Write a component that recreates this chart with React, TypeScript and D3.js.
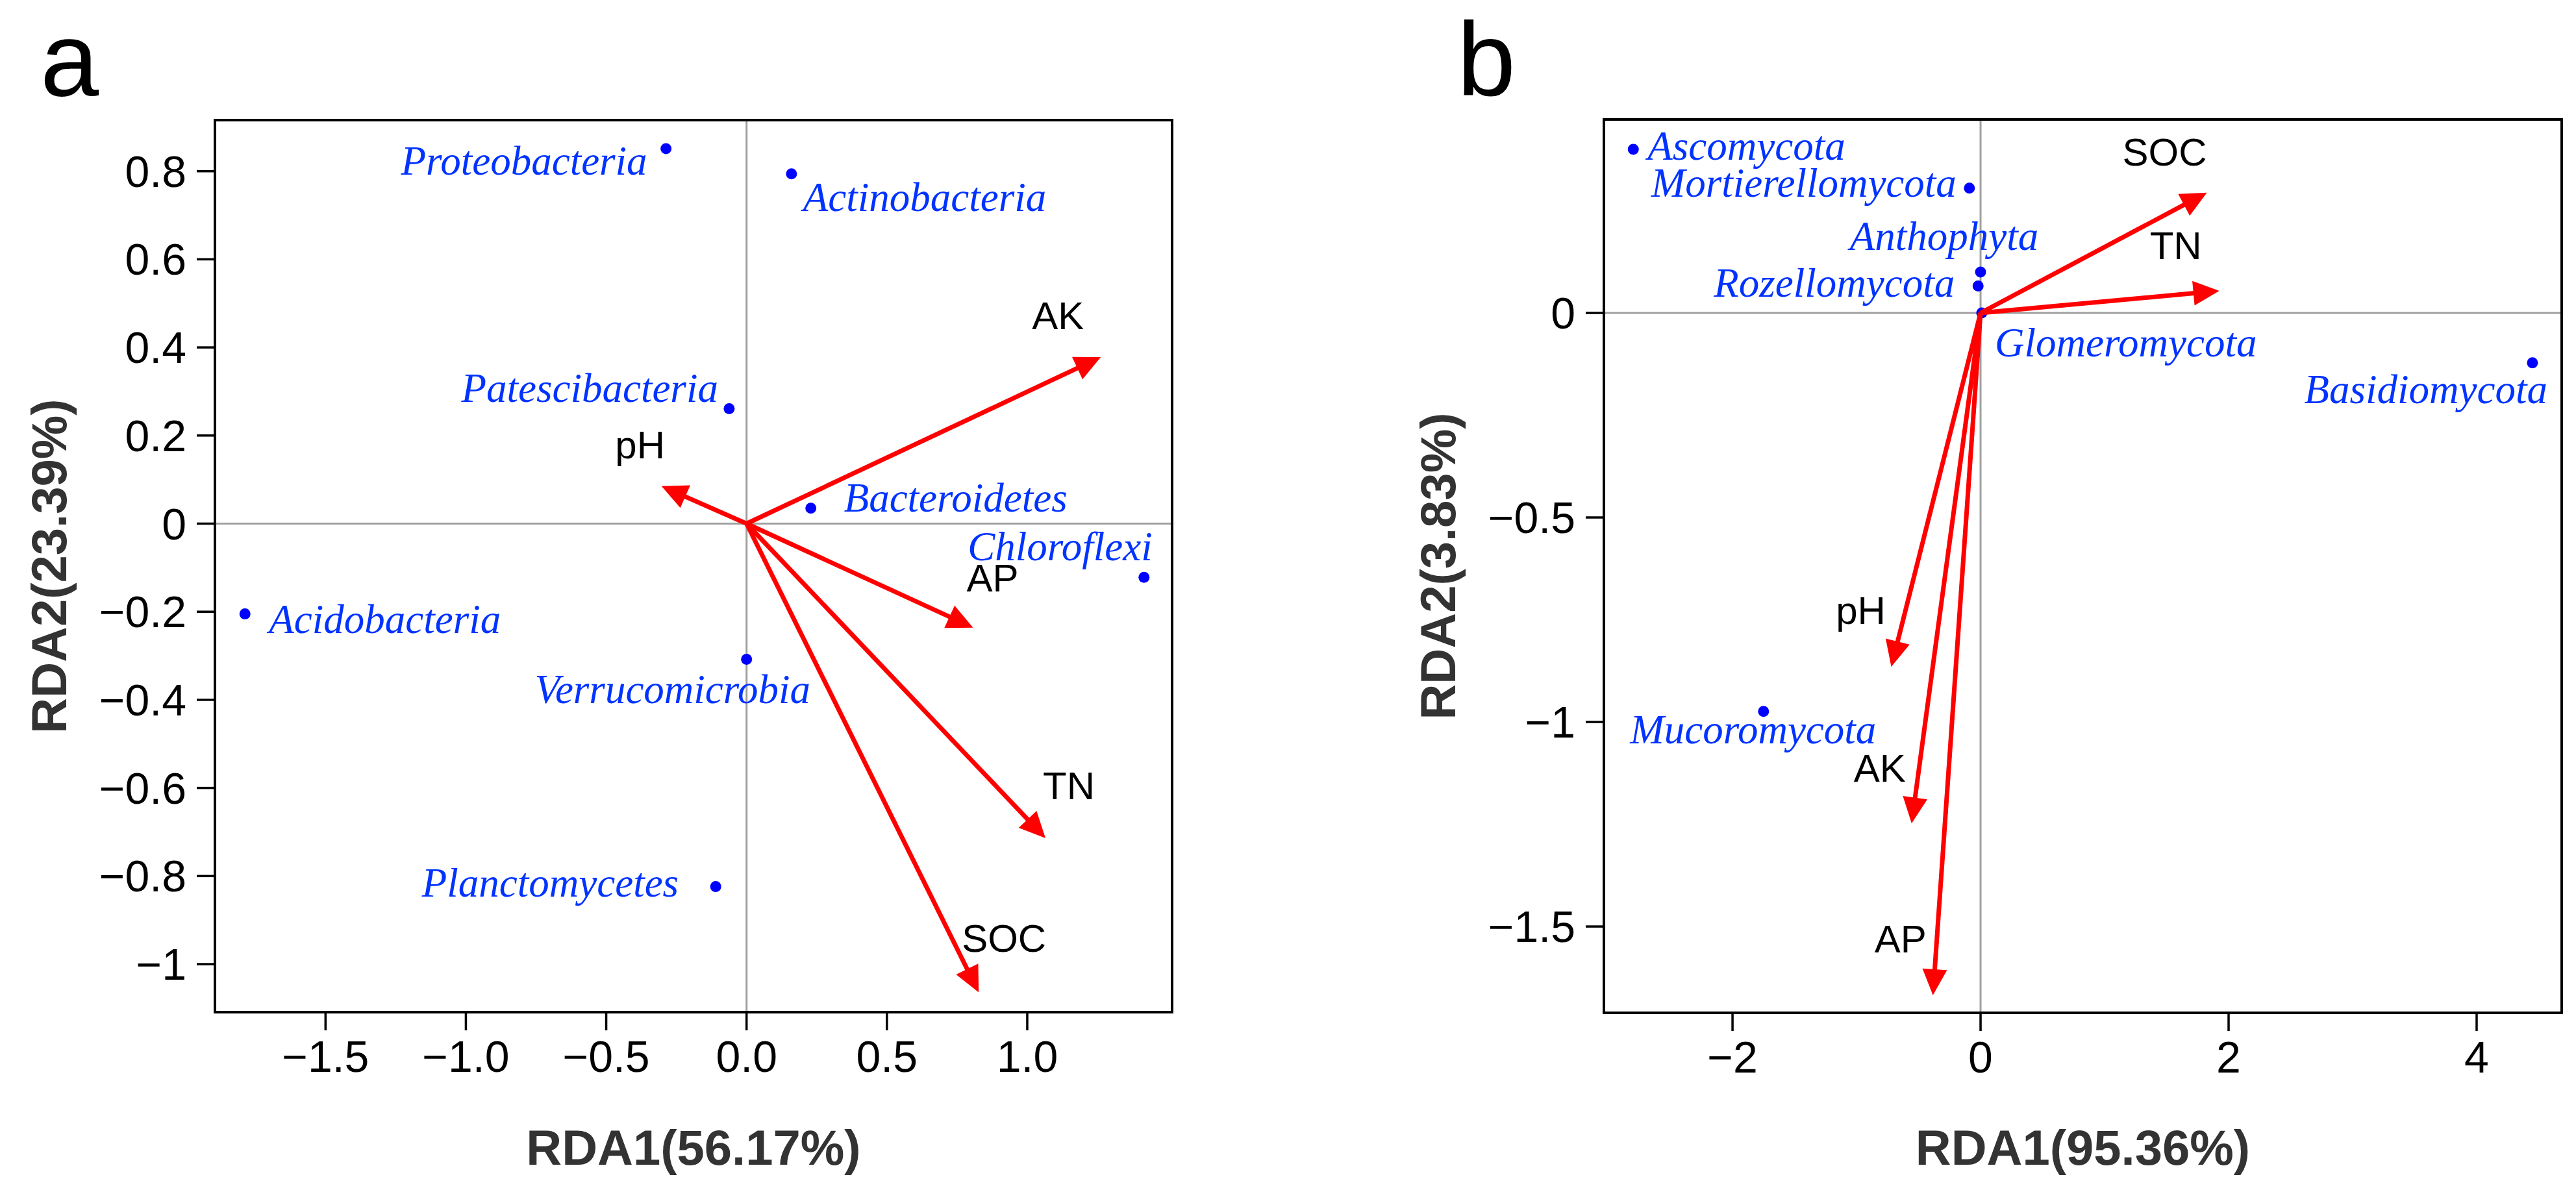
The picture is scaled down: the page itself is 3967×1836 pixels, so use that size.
import React, { useEffect } from 'react';
import * as d3 from 'd3';

// ---------------- Data: panel a (bacteria) ----------------
const bacteriaNames = ['Proteobacteria', 'Actinobacteria', 'Patescibacteria', 'Bacteroidetes', 'Chloroflexi', 'Acidobacteria', 'Verrucomicrobia', 'Planctomycetes'];
const bacteriaRDA1 = [-0.287, 0.16, -0.062, 0.229, 1.416, -1.787, 0.0, -0.11];
const bacteriaRDA2 = [0.851, 0.794, 0.261, 0.035, -0.122, -0.205, -0.308, -0.824];

const bacteriaEnvNames = ['AK', 'pH', 'AP', 'TN', 'SOC'];
const bacteriaEnvRDA1 = [1.262, -0.303, 0.807, 1.065, 0.827];
const bacteriaEnvRDA2 = [0.378, 0.085, -0.236, -0.714, -1.064];

const bacteriaXTicks = [-1.5, -1.0, -0.5, 0.0, 0.5, 1.0];
const bacteriaXTickLabels = ['\u22121.5', '\u22121.0', '\u22120.5', '0.0', '0.5', '1.0'];
const bacteriaYTicks = [0.8, 0.6, 0.4, 0.2, 0, -0.2, -0.4, -0.6, -0.8, -1];
const bacteriaYTickLabels = ['0.8', '0.6', '0.4', '0.2', '0', '\u22120.2', '\u22120.4', '\u22120.6', '\u22120.8', '\u22121'];

// ---------------- Data: panel b (fungi) ----------------
const fungiNames = ['Ascomycota', 'Mortierellomycota', 'Anthophyta', 'Rozellomycota', 'Glomeromycota', 'Basidiomycota', 'Mucoromycota'];
const fungiRDA1 = [-2.8, -0.09, 0.0, -0.02, 0.01, 4.45, -1.75];
const fungiRDA2 = [0.4, 0.305, 0.1, 0.066, 0.0, -0.122, -0.974];

const fungiEnvNames = ['SOC', 'TN', 'pH', 'AK', 'AP'];
const fungiEnvRDA1 = [1.825, 1.925, -0.72, -0.556, -0.384];
const fungiEnvRDA2 = [0.294, 0.054, -0.865, -1.248, -1.668];

const fungiXTicks = [-2, 0, 2, 4];
const fungiXTickLabels = ['\u22122', '0', '2', '4'];
const fungiYTicks = [0, -0.5, -1, -1.5];
const fungiYTickLabels = ['0', '\u22120.5', '\u22121', '\u22121.5'];

// ---------------- Label layout (pixel offsets from mark) ----------------
type LabelPos = [number, number, 'start' | 'middle' | 'end'];
const bacteriaLabelLayout: Record<string, LabelPos> = {
  Proteobacteria: [-29, 40, 'end'],
  Actinobacteria: [18, 57, 'start'],
  Patescibacteria: [-17, -10, 'end'],
  Bacteroidetes: [51, 5, 'start'],
  Chloroflexi: [13, -26, 'end'],
  Acidobacteria: [37, 29, 'start'],
  Verrucomicrobia: [-114, 67, 'middle'],
  Planctomycetes: [-57, 15, 'end'],
};
const bacteriaEnvLayout: Record<string, LabelPos> = {
  AK: [-66, -43, 'middle'],
  pH: [-33, -43, 'middle'],
  AP: [30, -56, 'middle'],
  TN: [36, -60, 'middle'],
  SOC: [39, -62, 'middle'],
};
const fungiLabelLayout: Record<string, LabelPos> = {
  Ascomycota: [22, 16, 'start'],
  Mortierellomycota: [-20, 13, 'end'],
  Anthophyta: [-56, -34, 'middle'],
  Rozellomycota: [-36, 17, 'end'],
  Glomeromycota: [20, 67, 'start'],
  Basidiomycota: [23, 62, 'end'],
  Mucoromycota: [-16, 49, 'middle'],
};
const fungiEnvLayout: Record<string, LabelPos> = {
  SOC: [-65, -42, 'middle'],
  TN: [-67, -49, 'middle'],
  pH: [-47, -66, 'middle'],
  AK: [-49, -64, 'middle'],
  AP: [-50, -66, 'middle'],
};

interface PanelProps {
  letter: string;
  letterX: number;
  box: { left: number; right: number; top: number; bottom: number };
  xDomain: [number, number];
  yDomain: [number, number];
  names: string[];
  xs: number[];
  ys: number[];
  envNames: string[];
  envXs: number[];
  envYs: number[];
  xTicks: number[];
  xTickLabels: string[];
  yTicks: number[];
  yTickLabels: string[];
  xTitle: string;
  yTitle: string;
  labelLayout: Record<string, LabelPos>;
  envLayout: Record<string, LabelPos>;
}

const SANS = '"Liberation Sans", Arial, Helvetica, sans-serif';
const SERIF = '"Liberation Serif", "Times New Roman", serif';

function Panel(p: PanelProps) {
  const { box } = p;
  const x = d3.scaleLinear().domain(p.xDomain).range([box.left, box.right]);
  const y = d3.scaleLinear().domain(p.yDomain).range([box.bottom, box.top]);
  const tickLen = 28;
  const headLen = 40;
  const headHalf = 19;
  const cx = (box.left + box.right) / 2;
  const cy = (box.top + box.bottom) / 2;

  return (
    <g>
      <text x={p.letterX} y={147} fontFamily={SANS} fontSize={162} fill="#000">{p.letter}</text>

      {/* zero lines */}
      <line x1={x(0)} x2={x(0)} y1={box.top} y2={box.bottom} stroke="#a0a0a0" strokeWidth={3} />
      <line x1={box.left} x2={box.right} y1={y(0)} y2={y(0)} stroke="#a0a0a0" strokeWidth={3} />

      {/* points */}
      {p.names.map((n, i) => (
        <circle key={'pt' + n} cx={x(p.xs[i])} cy={y(p.ys[i])} r={8.5} fill="#0000ff" />
      ))}

      {/* arrows */}
      {p.envNames.map((n, i) => {
        const x0 = x(0), y0 = y(0);
        const x1 = x(p.envXs[i]), y1 = y(p.envYs[i]);
        const dx = x1 - x0, dy = y1 - y0;
        const L = Math.hypot(dx, dy);
        const ux = dx / L, uy = dy / L;
        const bx = x1 - ux * headLen, by = y1 - uy * headLen;
        const px = -uy, py = ux;
        const pts = [
          [x1, y1],
          [bx + px * headHalf, by + py * headHalf],
          [bx - px * headHalf, by - py * headHalf],
        ].map((q) => q.join(',')).join(' ');
        return (
          <g key={'ar' + n}>
            <line x1={x0} y1={y0} x2={bx + ux * 4} y2={by + uy * 4} stroke="#ff0000" strokeWidth={7} />
            <polygon points={pts} fill="#ff0000" />
          </g>
        );
      })}

      {/* species labels */}
      {p.names.map((n, i) => {
        const [ddx, ddy, anchor] = p.labelLayout[n];
        return (
          <text key={'lb' + n} x={x(p.xs[i]) + ddx} y={y(p.ys[i]) + ddy} textAnchor={anchor}
            fontFamily={SERIF} fontStyle="italic" fontSize={63} fill="#0033ff">{n}</text>
        );
      })}

      {/* env labels */}
      {p.envNames.map((n, i) => {
        const [ddx, ddy, anchor] = p.envLayout[n];
        return (
          <text key={'el' + n} x={x(p.envXs[i]) + ddx} y={y(p.envYs[i]) + ddy} textAnchor={anchor}
            fontFamily={SANS} fontSize={60} fill="#000">{n}</text>
        );
      })}

      {/* box */}
      <rect x={box.left} y={box.top} width={box.right - box.left} height={box.bottom - box.top}
        fill="none" stroke="#000" strokeWidth={4} />

      {/* x ticks */}
      {p.xTicks.map((t, i) => (
        <g key={'xt' + i}>
          <line x1={x(t)} x2={x(t)} y1={box.bottom} y2={box.bottom + tickLen} stroke="#000" strokeWidth={3.5} />
          <text x={x(t)} y={box.bottom + 92} textAnchor="middle" fontFamily={SANS} fontSize={68} fill="#000">
            {p.xTickLabels[i]}
          </text>
        </g>
      ))}

      {/* y ticks */}
      {p.yTicks.map((t, i) => (
        <g key={'yt' + i}>
          <line x1={box.left - tickLen} x2={box.left} y1={y(t)} y2={y(t)} stroke="#000" strokeWidth={3.5} />
          <text x={box.left - 44} y={y(t) + 24} textAnchor="end" fontFamily={SANS} fontSize={68} fill="#000">
            {p.yTickLabels[i]}
          </text>
        </g>
      ))}

      {/* axis titles */}
      <text x={cx} y={1794} textAnchor="middle" fontFamily={SANS} fontWeight="bold" fontSize={76} fill="#333333">
        {p.xTitle}
      </text>
      <text transform={`translate(${box.left - 229},${cy}) rotate(-90)`} textAnchor="middle"
        fontFamily={SANS} fontWeight="bold" fontSize={76} fill="#333333">
        {p.yTitle}
      </text>
    </g>
  );
}

export default function App() {
  useEffect(() => {
    document.body.style.margin = '0';
    document.body.style.overflow = 'hidden';
  }, []);
  return (
    <svg width={3967} height={1836} viewBox="0 0 3967 1836"
      style={{ position: 'absolute', left: 0, top: 0, background: '#fff' }}>
      <rect x={0} y={0} width={3967} height={1836} fill="#fff" />
      <Panel
        letter="a" letterX={62}
        box={{ left: 331, right: 1805, top: 185, bottom: 1559 }}
        xDomain={[-1.894, 1.516]} yDomain={[-1.109, 0.916]}
        names={bacteriaNames} xs={bacteriaRDA1} ys={bacteriaRDA2}
        envNames={bacteriaEnvNames} envXs={bacteriaEnvRDA1} envYs={bacteriaEnvRDA2}
        xTicks={bacteriaXTicks} xTickLabels={bacteriaXTickLabels}
        yTicks={bacteriaYTicks} yTickLabels={bacteriaYTickLabels}
        xTitle="RDA1(56.17%)" yTitle="RDA2(23.39%)"
        labelLayout={bacteriaLabelLayout} envLayout={bacteriaEnvLayout}
      />
      <Panel
        letter="b" letterX={2244}
        box={{ left: 2470, right: 3945, top: 184, bottom: 1560 }}
        xDomain={[-3.037, 4.686]} yDomain={[-1.711, 0.473]}
        names={fungiNames} xs={fungiRDA1} ys={fungiRDA2}
        envNames={fungiEnvNames} envXs={fungiEnvRDA1} envYs={fungiEnvRDA2}
        xTicks={fungiXTicks} xTickLabels={fungiXTickLabels}
        yTicks={fungiYTicks} yTickLabels={fungiYTickLabels}
        xTitle="RDA1(95.36%)" yTitle="RDA2(3.83%)"
        labelLayout={fungiLabelLayout} envLayout={fungiEnvLayout}
      />
    </svg>
  );
}
